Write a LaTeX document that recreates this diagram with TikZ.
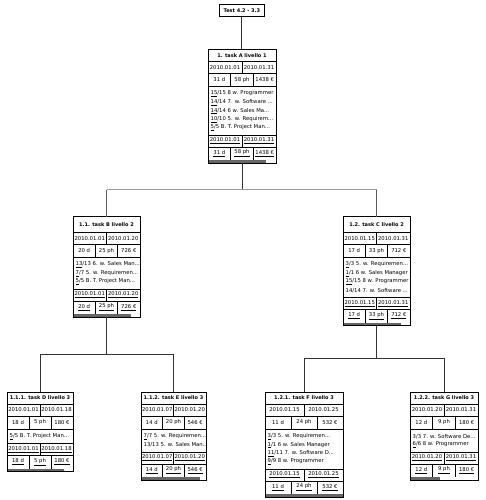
\documentclass[tikz,border=0pt]{standalone}
\usepackage{fontspec}
\setmainfont{DejaVu Sans}
\usetikzlibrary{calc}

\tikzset{
  frame/.style={draw=black, line width=0.6pt},
  sep/.style={draw=black, line width=0.45pt},
  txt/.style={font=\fontsize{5.3}{6}\selectfont, inner sep=0pt},
  ttl/.style={font=\bfseries\fontsize{5}{6}\selectfont, inner sep=0pt},
  restxt/.style={txt, anchor=west},
  bar/.style={fill=black!60},
  link/.style={draw=black!80, line width=0.7pt},
  softlink/.style={draw=black!40, line width=1pt},
}

% truncation mark of shortened names
\newcommand\cut{...}
% height of the title row of the next cards
\newcommand\titleh{12}

% date row: y centre, text style, start, end
\newcommand\tdates[4]{%
  \node[txt] at (\cW/4,#1) {#2{#3}};
  \node[txt] at (3*\cW/4,#1) {#2{#4}};}
% figures row: y centre, text style, days, hours, cost
\newcommand\tstats[5]{%
  \node[txt] at (\cW/6,#1) {#2{#3}};
  \node[txt] at (\cW/2,#1) {#2{#4}};
  \node[txt] at (5*\cW/6,#1) {#2{#5}};}

% task card: name, x, y, width, resource lines, progress, title, {start}{end}, {days}{hours}{cost}
\newcommand\tcard[9]{%
  \pgfmathsetmacro\cR{8.5*#5+6}%
  \pgfmathsetmacro\yD{\titleh}%
  \pgfmathsetmacro\yS{\titleh+12}%
  \pgfmathsetmacro\yR{\titleh+25}%
  \pgfmathsetmacro\yA{\titleh+25+\cR}%
  \pgfmathsetmacro\cH{\titleh+53+\cR}%
  \def\cW{#4}%
  \node[anchor=north west, minimum width=#4pt, minimum height=\cH pt,
        inner sep=0pt, outer sep=0pt, fill=white] (#1) at (#2,#3) {};
  \begin{scope}[shift={(#1.north west)}]
    \foreach \yy in {\yD,\yS,\yR,\yA,\yA+12}{\draw[sep] (0,\yy) -- (\cW,\yy);}
    \draw[sep] (\cW/2,\yD) -- (\cW/2,\yS);
    \draw[sep] (\cW/3,\yS) -- (\cW/3,\yR) (2*\cW/3,\yS) -- (2*\cW/3,\yR);
    \draw[sep] (\cW/2,\yA) -- (\cW/2,\yA+12);
    \draw[sep] (\cW/3,\yA+12) -- (\cW/3,\yA+25) (2*\cW/3,\yA+12) -- (2*\cW/3,\yA+25);
    \fill[bar] (0,\cH-3) rectangle (#6*\cW,\cH);
    \node[ttl] at (\cW/2,\yD/2) {#7};
    \tdates{\yD+6}{}#8
    \tstats{\yS+6.5}{}#9
    \tdates{\yA+6}{\underline}#8
    \tstats{\yA+18.5}{\underline}#9
  \end{scope}
  \draw[frame] (#1.north west) rectangle (#1.south east);
}

% resource lines of a card
\newcommand\tres[2]{%
  \begin{scope}[shift={(#1.north west)}]
    \foreach \r [count=\k from 0] in {#2}{\node[restxt] at (2.5,\yR+7.5+8.5*\k) {\r};}
  \end{scope}}

\begin{document}
\begin{tikzpicture}[x=1pt,y=-1pt]
  \fill[white] (0,0) rectangle (486,500);
  \useasboundingbox (0,0) rectangle (486,500);

  \node[frame, ttl, minimum width=45pt, minimum height=12pt, anchor=north west] (T) at (219,4) {Test 4.2 - 3.3};

  \renewcommand\titleh{12.5}
  \tcard{A}{208}{49}{68}{5}{0.85}{1. task A livello 1}{{2010.01.01}{2010.01.31}}{{31 d}{58 ph}{1438 €}}
  \tres{A}{{\underline{15}/15 8 w. Programmer},{\underline{14}/14 7. w. Software \cut},{\underline{14}/14 6 w. Sales Ma\cut},{\underline{10}/10 5. w. Requirem\cut},{\underline{5}/5 B. T. Project Man\cut}}

  \renewcommand\titleh{16}
  \tcard{B}{73}{216.5}{67}{3}{0.86}{1.1. task B livello 2}{{2010.01.01}{2010.01.20}}{{20 d}{25 ph}{726 €}}
  \tres{B}{{\underline{13}/13 6. w. Sales Man\cut},{\underline{7}/7 5. w. Requiremen\cut},{\underline{5}/5 B. T. Project Man\cut}}

  \tcard{C}{343}{216.5}{67}{4}{0.87}{1.2. task C livello 2}{{2010.01.15}{2010.01.31}}{{17 d}{33 ph}{712 €}}
  \tres{C}{{\underline{3}/3 5. w. Requiremen\cut},{\underline{1}/1 6 w. Sales Manager},{\underline{15}/15 8 w. Programmer},{14/14 7. w. Software \cut}}

  \renewcommand\titleh{12}
  \tcard{D}{7}{392}{66}{1}{0.86}{1.1.1. task D livello 3}{{2010.01.01}{2010.01.18}}{{18 d}{5 ph}{180 €}}
  \tres{D}{{\underline{5}/5 B. T. Project Man\cut}}

  \tcard{E}{141}{392}{65}{2}{0.91}{1.1.2. task E livello 3}{{2010.01.07}{2010.01.20}}{{14 d}{20 ph}{546 €}}
  \tres{E}{{\underline{7}/7 5. w. Requiremen\cut},{13/13 5. w. Sales Man\cut}}

  \tcard{F}{265}{392}{78}{4}{1}{1.2.1. task F livello 3}{{2010.01.15}{2010.01.25}}{{11 d}{24 ph}{532 €}}
  \tres{F}{{\underline{3}/3 5. w. Requiremen\cut},{\underline{1}/1 6 w. Sales Manager},{\underline{11}/11 7. w. Software D\cut},{\underline{9}/9 8 w. Programmer}}

  \tcard{G}{410}{392}{68}{2}{0.44}{1.2.2. task G livello 3}{{2010.01.20}{2010.01.31}}{{12 d}{9 ph}{180 €}}
  \tres{G}{{3/3 7. w. Software De\cut},{\underline{6}/6 8 w. Programmer}}

  % tree connectors
  \draw[link] (T.south) -- (T.south |- A.north);
  \coordinate (jA) at ($(A.south)!0.5!(A.south |- B.north)$);
  \coordinate (jB) at ($(B.south)!0.5!(B.south |- D.north)$);
  \coordinate (jC) at ($(C.south)!0.5!(C.south |- F.north)$);
  \draw[link] (A.south) -- (jA);
  \draw[softlink] (jA -| B.north) -- (jA -| C.north);
  \draw[link, draw=black!65] (jA -| B.north) -- (B.north);
  \draw[link, draw=black!65] (jA -| C.north) -- (C.north);
  \draw[link] (B.south) -- (jB);
  \draw[link] (jB) -| (D.north);
  \draw[link] (jB) -| (E.north);
  \draw[link] (C.south) -- (jC);
  \draw[link] (jC) -| (F.north);
  \draw[link] (jC) -| (G.north);
\end{tikzpicture}
\end{document}
